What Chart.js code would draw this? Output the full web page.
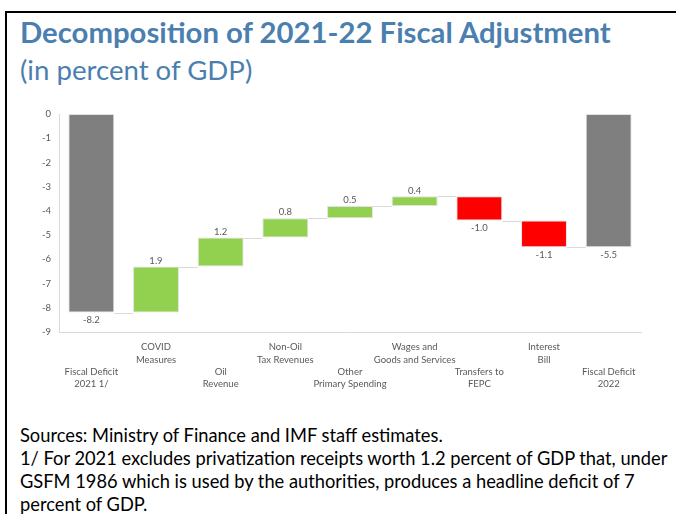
<!DOCTYPE html>
<html>
<head>
<meta charset="utf-8">
<script src="https://cdn.jsdelivr.net/npm/chart.js@4.4.0/dist/chart.umd.min.js"></script>
<style>
  body { margin: 0; background: #fff; width: 676px; height: 514px; overflow: hidden; position: relative; font-family: Lato, "Open Sans", sans-serif; }
  .frame { position: absolute; left: 5px; top: 11px; width: 720px; height: 600px; border: 2px solid #000; }
  .title { position: absolute; left: 20px; top: 14px; font-size: 29.3px; font-weight: bold; color: #4a7fb0; white-space: nowrap; }
  .subtitle { position: absolute; left: 20px; top: 53px; font-size: 27.6px; color: #4a7fb0; white-space: nowrap; }
  .notes { position: absolute; left: 20px; top: 424px; font-size: 18.3px; line-height: 23px; color: #000; white-space: nowrap; }
  .chartBox { position: absolute; left: 20px; top: 100px; width: 640px; height: 300px; }
</style>
</head>
<body>
<div class="frame"></div>
<div class="title">Decomposition of 2021-22 Fiscal Adjustment</div>
<div class="subtitle">(in percent of GDP)</div>
<div class="chartBox"><canvas id="chartWaterfall"></canvas></div>
<div class="notes">
  Sources: Ministry of Finance and IMF staff estimates.<br>
  1/ For 2021 excludes privatization receipts worth 1.2 percent of GDP that, under<br>
  GSFM 1986 which is used by the authorities, produces a headline deficit of 7<br>
  percent of GDP.
</div>
<script>
const categories = [
    ['Fiscal Deficit', '2021 1/'],
    ['COVID', 'Measures'],
    ['Oil', 'Revenue'],
    ['Non-Oil', 'Tax Revenues'],
    ['Other', 'Primary Spending'],
    ['Wages and', 'Goods and Services'],
    ['Transfers to', 'FEPC'],
    ['Interest', 'Bill'],
    ['Fiscal Deficit', '2022']
];
const values = [-8.2, 1.9, 1.2, 0.8, 0.5, 0.4, -1.0, -1.1, -5.5];
const isTotal = [true, false, false, false, false, false, false, false, true];
const yTicks = [0, -1, -2, -3, -4, -5, -6, -7, -8, -9];

const colGray = '#7f7f7f', colGreen = '#92d050', colRed = '#ff0000';

// floating bars for the waterfall
let running = 0;
const ranges = [];
const levels = [];
values.forEach((v, i) => {
    if (isTotal[i]) {
        ranges.push([0, v]);
        running = v;
    } else {
        ranges.push([running, running + v]);
        running += v;
    }
    levels.push(running);
});
const barColors = values.map((v, i) => isTotal[i] ? colGray : (v >= 0 ? colGreen : colRed));

// odd categories on the upper row, even ones pushed down two lines
const tickLines = categories.map((c, i) => i % 2 === 0 ? ['', '', c[0], c[1]] : c);

const waterfallExtras = {
    id: 'waterfallExtras',
    afterDatasetsDraw(chart) {
        const ctx = chart.ctx;
        const meta = chart.getDatasetMeta(0);
        const y = chart.scales.y;
        ctx.save();
        // connectors
        ctx.strokeStyle = '#d9d9d9';
        ctx.lineWidth = 1;
        for (let i = 0; i < meta.data.length - 1; i++) {
            const a = meta.data[i], b = meta.data[i + 1];
            const py = Math.round(y.getPixelForValue(levels[i])) + 0.5;
            ctx.beginPath();
            ctx.moveTo(a.x + a.width / 2, py);
            ctx.lineTo(b.x - b.width / 2, py);
            ctx.stroke();
        }
        // value labels
        ctx.fillStyle = '#595959';
        ctx.font = '9.5px Lato, "Open Sans", sans-serif';
        ctx.textAlign = 'center';
        meta.data.forEach((bar, i) => {
            const v = values[i];
            const txt = v.toFixed(1);
            if (isTotal[i] || v < 0) {
                const py = y.getPixelForValue(Math.min(ranges[i][0], ranges[i][1]));
                ctx.textBaseline = 'top';
                ctx.fillText(txt, bar.x, py + 3);
            } else {
                const py = y.getPixelForValue(Math.max(ranges[i][0], ranges[i][1]));
                ctx.textBaseline = 'bottom';
                ctx.fillText(txt, bar.x, py - 1);
            }
        });
        ctx.restore();
    }
};

new Chart(document.getElementById('chartWaterfall').getContext('2d'), {
    type: 'bar',
    data: {
        labels: tickLines,
        datasets: [{
            data: ranges,
            backgroundColor: barColors,
            borderColor: 'rgba(217,217,217,0.8)',
            borderWidth: 1,
            borderSkipped: false,
            categoryPercentage: 1,
            barPercentage: 0.71
        }]
    },
    options: {
        responsive: true, maintainAspectRatio: false,
        animation: false,
        layout: { padding: { top: 14, right: 19, bottom: 0, left: 0 } },
        plugins: { legend: { display: false }, tooltip: { enabled: false } },
        scales: {
            y: {
                min: -9, max: 0,
                afterBuildTicks: (s) => { s.ticks = yTicks.map(v => ({ value: v })); },
                afterFit: (s) => { s.width = 39; },
                grid: { display: false, drawTicks: false },
                border: { display: true, color: '#d9d9d9' },
                ticks: { color: '#595959', padding: 8, font: { family: 'Lato', size: 9.5 } }
            },
            x: {
                afterFit: (s) => { s.height = 68; },
                grid: { display: false, drawTicks: false },
                border: { display: true, color: '#d9d9d9' },
                ticks: { color: '#595959', padding: 9, maxRotation: 0, autoSkip: false,
                         font: { family: 'Lato', size: 9.5, lineHeight: 1.3 } }
            }
        }
    },
    plugins: [waterfallExtras]
});
</script>
</body>
</html>
